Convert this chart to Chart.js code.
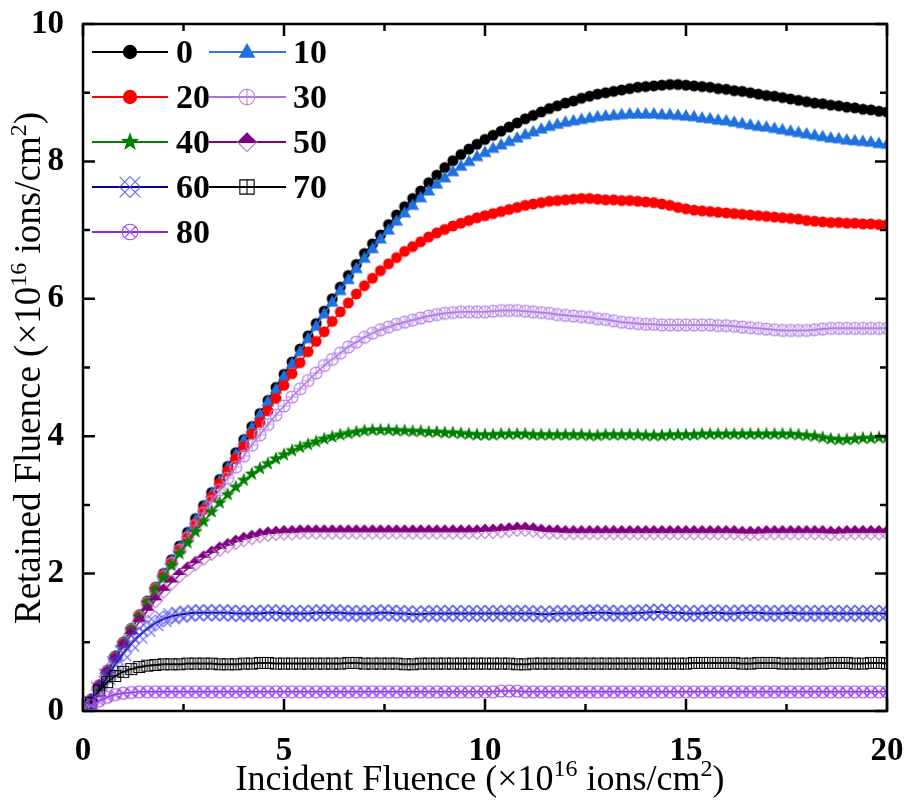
<!DOCTYPE html>
<html>
<head>
<meta charset="utf-8">
<title>Retained vs Incident Fluence</title>
<script src="https://cdn.jsdelivr.net/npm/chart.js@4.4.1/dist/chart.umd.min.js"></script>
<style>
  html, body { margin: 0; padding: 0; background: #ffffff; }
  #wrap { width: 904px; height: 804px; }
</style>
</head>
<body>
<div id="wrap"><canvas id="fluenceChart" width="904" height="804"></canvas></div>
<script>
// ==== DATA ====
// incident fluence (x10^16 ions/cm2)
const incident = [
  0.2, 0.4, 0.6, 0.8, 1.0, 1.2, 1.4, 1.6, 1.8, 2.0,
  2.2, 2.4, 2.6, 2.8, 3.0, 3.2, 3.4, 3.6, 3.8, 4.0,
  4.2, 4.4, 4.6, 4.8, 5.0, 5.2, 5.4, 5.6, 5.8, 6.0,
  6.2, 6.4, 6.6, 6.8, 7.0, 7.2, 7.4, 7.6, 7.8, 8.0,
  8.2, 8.4, 8.6, 8.8, 9.0, 9.2, 9.4, 9.6, 9.8, 10.0,
  10.2, 10.4, 10.6, 10.8, 11.0, 11.2, 11.4, 11.6, 11.8, 12.0,
  12.2, 12.4, 12.6, 12.8, 13.0, 13.2, 13.4, 13.6, 13.8, 14.0,
  14.2, 14.4, 14.6, 14.8, 15.0, 15.2, 15.4, 15.6, 15.8, 16.0,
  16.2, 16.4, 16.6, 16.8, 17.0, 17.2, 17.4, 17.6, 17.8, 18.0,
  18.2, 18.4, 18.6, 18.8, 19.0, 19.2, 19.4, 19.6, 19.8, 20.0
];

// retained fluence per series
const retained0 = [
  0.17, 0.38, 0.59, 0.80, 1.00, 1.20, 1.40, 1.60, 1.80, 2.00,
  2.20, 2.40, 2.60, 2.80, 2.99, 3.18, 3.37, 3.56, 3.76, 3.95,
  4.14, 4.33, 4.52, 4.71, 4.90, 5.08, 5.27, 5.46, 5.64, 5.82,
  6.00, 6.17, 6.34, 6.50, 6.66, 6.80, 6.93, 7.08, 7.22, 7.34,
  7.46, 7.57, 7.69, 7.80, 7.91, 8.01, 8.10, 8.18, 8.25, 8.32,
  8.38, 8.44, 8.50, 8.56, 8.62, 8.67, 8.72, 8.77, 8.81, 8.85,
  8.88, 8.92, 8.95, 8.98, 9.00, 9.02, 9.04, 9.06, 9.08, 9.09,
  9.10, 9.11, 9.12, 9.12, 9.11, 9.10, 9.09, 9.08, 9.06, 9.05,
  9.03, 9.02, 9.00, 8.98, 8.96, 8.95, 8.93, 8.91, 8.89, 8.87,
  8.85, 8.84, 8.82, 8.81, 8.79, 8.78, 8.76, 8.75, 8.73, 8.72
];
const retained10 = [
  0.16, 0.37, 0.58, 0.79, 0.99, 1.19, 1.39, 1.59, 1.79, 1.99,
  2.19, 2.38, 2.58, 2.78, 2.97, 3.16, 3.35, 3.54, 3.73, 3.94,
  4.12, 4.31, 4.50, 4.68, 4.87, 5.05, 5.23, 5.42, 5.60, 5.78,
  5.95, 6.12, 6.28, 6.44, 6.59, 6.73, 6.87, 7.00, 7.13, 7.25,
  7.36, 7.47, 7.57, 7.67, 7.76, 7.85, 7.93, 8.00, 8.07, 8.13,
  8.19, 8.24, 8.29, 8.34, 8.39, 8.43, 8.47, 8.51, 8.54, 8.57,
  8.59, 8.61, 8.63, 8.65, 8.66, 8.67, 8.68, 8.69, 8.69, 8.69,
  8.69, 8.68, 8.68, 8.67, 8.66, 8.65, 8.63, 8.62, 8.60, 8.59,
  8.57, 8.55, 8.53, 8.51, 8.50, 8.48, 8.46, 8.44, 8.42, 8.40,
  8.38, 8.36, 8.34, 8.33, 8.31, 8.30, 8.29, 8.28, 8.26, 8.25
];
const retained20 = [
  0.16, 0.37, 0.58, 0.79, 0.99, 1.19, 1.39, 1.58, 1.78, 1.97,
  2.16, 2.35, 2.54, 2.73, 2.93, 3.12, 3.31, 3.49, 3.67, 3.85,
  4.03, 4.20, 4.37, 4.55, 4.74, 4.91, 5.07, 5.23, 5.38, 5.52,
  5.67, 5.81, 5.94, 6.07, 6.19, 6.30, 6.41, 6.51, 6.60, 6.69,
  6.76, 6.83, 6.90, 6.96, 7.01, 7.06, 7.10, 7.14, 7.18, 7.21,
  7.24, 7.27, 7.30, 7.33, 7.36, 7.38, 7.40, 7.42, 7.43, 7.44,
  7.45, 7.46, 7.46, 7.45, 7.44, 7.44, 7.43, 7.43, 7.42, 7.41,
  7.40, 7.38, 7.36, 7.33, 7.31, 7.29, 7.28, 7.27, 7.26, 7.25,
  7.24, 7.23, 7.22, 7.21, 7.20, 7.19, 7.18, 7.17, 7.16, 7.14,
  7.13, 7.12, 7.11, 7.11, 7.10, 7.10, 7.09, 7.09, 7.08, 7.08
];
const retained30 = [
  0.15, 0.36, 0.57, 0.78, 0.98, 1.18, 1.38, 1.57, 1.77, 1.96,
  2.15, 2.34, 2.52, 2.70, 2.88, 3.05, 3.22, 3.39, 3.55, 3.71,
  3.87, 4.02, 4.17, 4.31, 4.44, 4.57, 4.69, 4.81, 4.92, 5.03,
  5.12, 5.21, 5.30, 5.37, 5.44, 5.50, 5.55, 5.59, 5.63, 5.66,
  5.69, 5.72, 5.75, 5.77, 5.79, 5.80, 5.81, 5.81, 5.81, 5.81,
  5.82, 5.83, 5.83, 5.83, 5.82, 5.81, 5.80, 5.79, 5.77, 5.76,
  5.75, 5.74, 5.73, 5.71, 5.70, 5.68, 5.66, 5.65, 5.64, 5.63,
  5.63, 5.62, 5.62, 5.62, 5.62, 5.62, 5.62, 5.62, 5.61, 5.61,
  5.60, 5.59, 5.58, 5.57, 5.56, 5.55, 5.54, 5.54, 5.54, 5.54,
  5.55, 5.56, 5.57, 5.57, 5.57, 5.57, 5.57, 5.57, 5.57, 5.57
];
const retained40 = [
  0.15, 0.36, 0.57, 0.78, 0.98, 1.18, 1.37, 1.57, 1.76, 1.94,
  2.12, 2.29, 2.45, 2.61, 2.76, 2.90, 3.03, 3.15, 3.26, 3.36,
  3.45, 3.53, 3.60, 3.67, 3.73, 3.79, 3.84, 3.88, 3.92, 3.96,
  3.99, 4.02, 4.04, 4.06, 4.08, 4.09, 4.09, 4.09, 4.08, 4.08,
  4.07, 4.07, 4.06, 4.06, 4.05, 4.05, 4.04, 4.03, 4.02, 4.02,
  4.02, 4.03, 4.03, 4.03, 4.03, 4.02, 4.02, 4.02, 4.02, 4.02,
  4.02, 4.02, 4.01, 4.01, 4.02, 4.02, 4.02, 4.02, 4.02, 4.01,
  4.01, 4.01, 4.02, 4.02, 4.02, 4.02, 4.03, 4.03, 4.03, 4.03,
  4.03, 4.03, 4.03, 4.03, 4.03, 4.03, 4.03, 4.03, 4.02, 4.01,
  4.00, 3.98, 3.96, 3.95, 3.95, 3.96, 3.97, 3.97, 3.98, 3.98
];
const retained50 = [
  0.15, 0.35, 0.55, 0.75, 0.94, 1.12, 1.30, 1.46, 1.61, 1.75,
  1.87, 1.98, 2.07, 2.15, 2.23, 2.30, 2.36, 2.41, 2.46, 2.50,
  2.53, 2.56, 2.58, 2.59, 2.60, 2.60, 2.61, 2.61, 2.61, 2.61,
  2.61, 2.61, 2.61, 2.61, 2.61, 2.61, 2.61, 2.61, 2.61, 2.61,
  2.61, 2.61, 2.61, 2.61, 2.61, 2.61, 2.61, 2.61, 2.61, 2.62,
  2.62, 2.63, 2.64, 2.65, 2.65, 2.64, 2.62, 2.61, 2.61, 2.60,
  2.60, 2.60, 2.60, 2.60, 2.60, 2.60, 2.60, 2.60, 2.60, 2.60,
  2.60, 2.60, 2.60, 2.60, 2.60, 2.60, 2.60, 2.60, 2.60, 2.60,
  2.60, 2.59, 2.59, 2.59, 2.60, 2.60, 2.60, 2.60, 2.60, 2.60,
  2.60, 2.60, 2.59, 2.59, 2.60, 2.60, 2.60, 2.60, 2.60, 2.60
];
const retained60 = [
  0.12, 0.31, 0.50, 0.68, 0.84, 0.98, 1.10, 1.20, 1.28, 1.34,
  1.38, 1.40, 1.42, 1.43, 1.43, 1.43, 1.43, 1.43, 1.42, 1.42,
  1.42, 1.42, 1.43, 1.43, 1.42, 1.42, 1.42, 1.42, 1.43, 1.43,
  1.43, 1.43, 1.42, 1.42, 1.42, 1.42, 1.43, 1.43, 1.42, 1.42,
  1.41, 1.41, 1.42, 1.42, 1.42, 1.42, 1.42, 1.42, 1.42, 1.42,
  1.42, 1.42, 1.42, 1.42, 1.42, 1.42, 1.41, 1.41, 1.42, 1.42,
  1.42, 1.42, 1.43, 1.43, 1.43, 1.42, 1.42, 1.42, 1.43, 1.43,
  1.44, 1.44, 1.43, 1.43, 1.42, 1.42, 1.42, 1.43, 1.43, 1.42,
  1.42, 1.43, 1.43, 1.43, 1.42, 1.42, 1.42, 1.43, 1.42, 1.42,
  1.42, 1.42, 1.42, 1.42, 1.42, 1.42, 1.42, 1.42, 1.42, 1.42
];
const retained70 = [
  0.12, 0.30, 0.42, 0.51, 0.57, 0.61, 0.64, 0.66, 0.67, 0.68,
  0.68, 0.68, 0.69, 0.69, 0.69, 0.69, 0.68, 0.68, 0.68, 0.69,
  0.69, 0.70, 0.70, 0.69, 0.69, 0.69, 0.69, 0.69, 0.69, 0.69,
  0.69, 0.69, 0.70, 0.70, 0.69, 0.69, 0.69, 0.69, 0.69, 0.68,
  0.68, 0.69, 0.69, 0.69, 0.69, 0.69, 0.69, 0.69, 0.69, 0.69,
  0.69, 0.69, 0.69, 0.68, 0.68, 0.69, 0.69, 0.69, 0.69, 0.69,
  0.69, 0.69, 0.69, 0.69, 0.69, 0.69, 0.69, 0.69, 0.69, 0.69,
  0.69, 0.69, 0.69, 0.69, 0.69, 0.70, 0.70, 0.70, 0.70, 0.70,
  0.70, 0.69, 0.69, 0.70, 0.70, 0.70, 0.69, 0.69, 0.69, 0.69,
  0.69, 0.69, 0.70, 0.70, 0.70, 0.69, 0.69, 0.70, 0.70, 0.69
];
const retained80 = [
  0.08, 0.15, 0.20, 0.24, 0.26, 0.27, 0.28, 0.28, 0.28, 0.28,
  0.28, 0.28, 0.28, 0.28, 0.28, 0.28, 0.28, 0.28, 0.28, 0.28,
  0.28, 0.28, 0.28, 0.28, 0.28, 0.28, 0.28, 0.28, 0.28, 0.28,
  0.28, 0.28, 0.28, 0.28, 0.28, 0.28, 0.28, 0.28, 0.28, 0.28,
  0.28, 0.28, 0.28, 0.28, 0.28, 0.28, 0.28, 0.28, 0.28, 0.28,
  0.28, 0.29, 0.29, 0.29, 0.28, 0.28, 0.28, 0.28, 0.28, 0.28,
  0.28, 0.28, 0.28, 0.28, 0.28, 0.28, 0.28, 0.28, 0.28, 0.28,
  0.28, 0.28, 0.28, 0.28, 0.28, 0.28, 0.28, 0.28, 0.28, 0.28,
  0.28, 0.28, 0.28, 0.28, 0.28, 0.28, 0.28, 0.28, 0.28, 0.28,
  0.28, 0.28, 0.28, 0.28, 0.28, 0.28, 0.28, 0.28, 0.28, 0.28
];

const seriesLabels = ["0", "10", "20", "30", "40", "50", "60", "70", "80"];
const seriesValues = [retained0, retained10, retained20, retained30, retained40,
                      retained50, retained60, retained70, retained80];

const xTicks = [0, 5, 10, 15, 20];
const yTicks = [0, 2, 4, 6, 8, 10];

// ==== STYLES ====
const SERIF = '"Liberation Serif", "Times New Roman", serif';

const seriesStyles = [
  { line: "#000000", kind: "dot", fill: "#000000" },
  { line: "#2a78e4", kind: "tri", fill: "#1f70e0" },
  { line: "#ff0000", kind: "dot", fill: "#ff0000" },
  { line: "#a875dc", kind: "circlePlus", stroke: "#b383e6" },
  { line: "#008000", kind: "star", fill: "#008000" },
  { line: "#800080", kind: "halfDiamond", fill: "#800080", stroke: "#c07fd0" },
  { line: "#00008b", kind: "diamondX", stroke: "rgba(70,70,235,0.8)" },
  { line: "#000000", kind: "squarePlus", stroke: "#000000" },
  { line: "#8a2be2", kind: "circleX", stroke: "#9d4cf0" },
];

// draws one marker centred on (0,0), s = scale
function paintMarker(ctx, st, s) {
  ctx.save();
  ctx.lineWidth = 1.1;
  ctx.fillStyle = st.fill || "transparent";
  ctx.strokeStyle = st.stroke || st.fill;
  ctx.beginPath();
  if (st.kind === "dot") {
    ctx.arc(0, 0, 5.5 * s, 0, Math.PI * 2);
    ctx.fill();
  } else if (st.kind === "tri") {
    ctx.moveTo(0, -7 * s);
    ctx.lineTo(6.5 * s, 4.5 * s);
    ctx.lineTo(-6.5 * s, 4.5 * s);
    ctx.closePath();
    ctx.fill();
  } else if (st.kind === "star") {
    const R = 7.5 * s, r = 3.1 * s;
    for (let k = 0; k < 10; k++) {
      const a = -Math.PI / 2 + (k * Math.PI) / 5;
      const rr = k % 2 === 0 ? R : r;
      const px = Math.cos(a) * rr, py = Math.sin(a) * rr;
      if (k === 0) ctx.moveTo(px, py); else ctx.lineTo(px, py);
    }
    ctx.closePath();
    ctx.fill();
  } else if (st.kind === "halfDiamond") {
    const h = 7.5 * s;
    ctx.moveTo(-h, 0); ctx.lineTo(0, -h); ctx.lineTo(h, 0); ctx.closePath();
    ctx.fill();
    ctx.beginPath();
    ctx.moveTo(-h, 0); ctx.lineTo(0, h); ctx.lineTo(h, 0);
    ctx.stroke();
  } else if (st.kind === "circlePlus") {
    const r = 6 * s;
    ctx.arc(0, 0, r, 0, Math.PI * 2);
    ctx.moveTo(-r, 0); ctx.lineTo(r, 0);
    ctx.moveTo(0, -r); ctx.lineTo(0, r);
    ctx.stroke();
  } else if (st.kind === "circleX") {
    const r = 6 * s, d = r * 0.707;
    ctx.arc(0, 0, r, 0, Math.PI * 2);
    ctx.moveTo(-d, -d); ctx.lineTo(d, d);
    ctx.moveTo(d, -d); ctx.lineTo(-d, d);
    ctx.stroke();
  } else if (st.kind === "squarePlus") {
    const h = 5.5 * s;
    ctx.rect(-h, -h, 2 * h, 2 * h);
    ctx.moveTo(-h, 0); ctx.lineTo(h, 0);
    ctx.moveTo(0, -h); ctx.lineTo(0, h);
    ctx.stroke();
  } else if (st.kind === "diamondX") {
    const h = 8 * s;
    ctx.moveTo(-h, -h); ctx.lineTo(h, h);
    ctx.moveTo(h, -h); ctx.lineTo(-h, h);
    ctx.moveTo(0, -h); ctx.lineTo(h, 0); ctx.lineTo(0, h); ctx.lineTo(-h, 0); ctx.closePath();
    ctx.stroke();
  }
  ctx.restore();
}

function makeMarker(st, s) {
  const size = Math.ceil(24 * s);
  const c = document.createElement("canvas");
  c.width = size;
  c.height = size;
  const ctx = c.getContext("2d");
  ctx.translate(size / 2, size / 2);
  paintMarker(ctx, st, s);
  return c;
}

// ==== PLUGINS ====

// frame + inward ticks on all four sides
const framePlugin = {
  id: "frame",
  afterDraw(chart) {
    const { ctx, chartArea: a, scales } = chart;
    const xs = scales.x, ys = scales.y;
    ctx.save();
    ctx.strokeStyle = "#000";
    ctx.lineWidth = 2.5;
    ctx.strokeRect(a.left, a.top, a.right - a.left, a.bottom - a.top);
    ctx.beginPath();
    for (let i = 0; i < xTicks.length; i++) {
      const px = xs.getPixelForValue(xTicks[i]);
      ctx.moveTo(px, a.bottom); ctx.lineTo(px, a.bottom - 12);
      ctx.moveTo(px, a.top); ctx.lineTo(px, a.top + 12);
      if (i < xTicks.length - 1) {
        const mx = xs.getPixelForValue((xTicks[i] + xTicks[i + 1]) / 2);
        ctx.moveTo(mx, a.bottom); ctx.lineTo(mx, a.bottom - 7);
        ctx.moveTo(mx, a.top); ctx.lineTo(mx, a.top + 7);
      }
    }
    for (let i = 0; i < yTicks.length; i++) {
      const py = ys.getPixelForValue(yTicks[i]);
      ctx.moveTo(a.left, py); ctx.lineTo(a.left + 12, py);
      ctx.moveTo(a.right, py); ctx.lineTo(a.right - 12, py);
      if (i < yTicks.length - 1) {
        const my = ys.getPixelForValue((yTicks[i] + yTicks[i + 1]) / 2);
        ctx.moveTo(a.left, my); ctx.lineTo(a.left + 7, my);
        ctx.moveTo(a.right, my); ctx.lineTo(a.right - 7, my);
      }
    }
    ctx.stroke();
    ctx.restore();
  },
};

// text with superscript parts, centred on x
function drawRich(ctx, parts, x, y, size) {
  const supSize = Math.round(size * 0.66);
  let total = 0;
  parts.forEach((p) => {
    ctx.font = (p.sup ? supSize : size) + "px " + SERIF;
    p.w = ctx.measureText(p.t).width;
    total += p.w;
  });
  let cx = x - total / 2;
  parts.forEach((p) => {
    ctx.font = (p.sup ? supSize : size) + "px " + SERIF;
    ctx.fillText(p.t, cx, p.sup ? y - size * 0.38 : y);
    cx += p.w;
  });
}

const titlePlugin = {
  id: "titles",
  afterDraw(chart) {
    const { ctx, chartArea: a } = chart;
    ctx.save();
    ctx.fillStyle = "#000";
    ctx.textBaseline = "alphabetic";
    ctx.textAlign = "left";
    drawRich(ctx, [
      { t: "Incident Fluence (\u00d710" }, { t: "16", sup: true },
      { t: " ions/cm" }, { t: "2", sup: true }, { t: ")" },
    ], 480, 790, 36);
    ctx.translate(40, 368);
    ctx.rotate(-Math.PI / 2);
    drawRich(ctx, [
      { t: "Retained Fluence (\u00d710" }, { t: "16", sup: true },
      { t: " ions/cm" }, { t: "2", sup: true }, { t: ")" },
    ], 0, 0, 37);
    ctx.restore();
  },
};

// two-column legend with line + marker samples
const legendPlugin = {
  id: "sampleLegend",
  afterDraw(chart) {
    const ctx = chart.ctx;
    const cols = [
      { x0: 92, x1: 168, mx: 130, tx: 176 },
      { x0: 209, x1: 286, mx: 247, tx: 293 },
    ];
    ctx.save();
    seriesLabels.forEach((lab, i) => {
      const c = cols[i % 2];
      const y = 52 + Math.floor(i / 2) * 45;
      const st = seriesStyles[i];
      ctx.strokeStyle = st.line;
      ctx.lineWidth = 2;
      ctx.beginPath();
      ctx.moveTo(c.x0, y); ctx.lineTo(c.x1, y);
      ctx.stroke();
      ctx.save();
      ctx.translate(c.mx, y);
      paintMarker(ctx, st, 1.3);
      ctx.restore();
      ctx.fillStyle = "#000";
      ctx.font = "bold 34px " + SERIF;
      ctx.textAlign = "left";
      ctx.textBaseline = "alphabetic";
      ctx.fillText(lab, c.tx, y + 11);
    });
    ctx.restore();
  },
};

// ==== CHART ====
const datasets = seriesValues.map((vals, i) => {
  const st = seriesStyles[i];
  return {
    label: seriesLabels[i],
    data: vals.map((v, k) => ({ x: incident[k], y: v })),
    showLine: true,
    borderColor: st.line,
    borderWidth: i === 6 ? 2 : 1.5,
    backgroundColor: st.fill || st.stroke,
    pointStyle: makeMarker(st, 1),
    pointRadius: 5,
    tension: 0,
    order: seriesLabels.length - 1 - i,
  };
});

const tickFont = { family: SERIF, size: 33, weight: "bold" };

new Chart(document.getElementById("fluenceChart"), {
  type: "scatter",
  data: { datasets },
  plugins: [framePlugin, titlePlugin, legendPlugin],
  options: {
    responsive: false,
    animation: false,
    events: [],
    layout: { padding: { top: 24, right: 17, left: 0, bottom: 0 } },
    plugins: { legend: { display: false }, tooltip: { enabled: false } },
    scales: {
      x: {
        type: "linear",
        min: 0,
        max: 20,
        afterFit: (s) => {
          s.height = 93;
          s.paddingLeft = 0;
          s.paddingRight = 0;
        },
        afterBuildTicks: (s) => { s.ticks = xTicks.map((v) => ({ value: v })); },
        grid: { display: false },
        border: { display: false },
        ticks: { font: tickFont, color: "#000", padding: 13, maxRotation: 0 },
      },
      y: {
        type: "linear",
        min: 0,
        max: 10,
        afterFit: (s) => {
          s.width = 83;
          s.paddingTop = 0;
          s.paddingBottom = 0;
        },
        afterBuildTicks: (s) => { s.ticks = yTicks.map((v) => ({ value: v })); },
        grid: { display: false },
        border: { display: false },
        ticks: { font: tickFont, color: "#000", padding: 11 },
      },
    },
  },
});
</script>
</body>
</html>
